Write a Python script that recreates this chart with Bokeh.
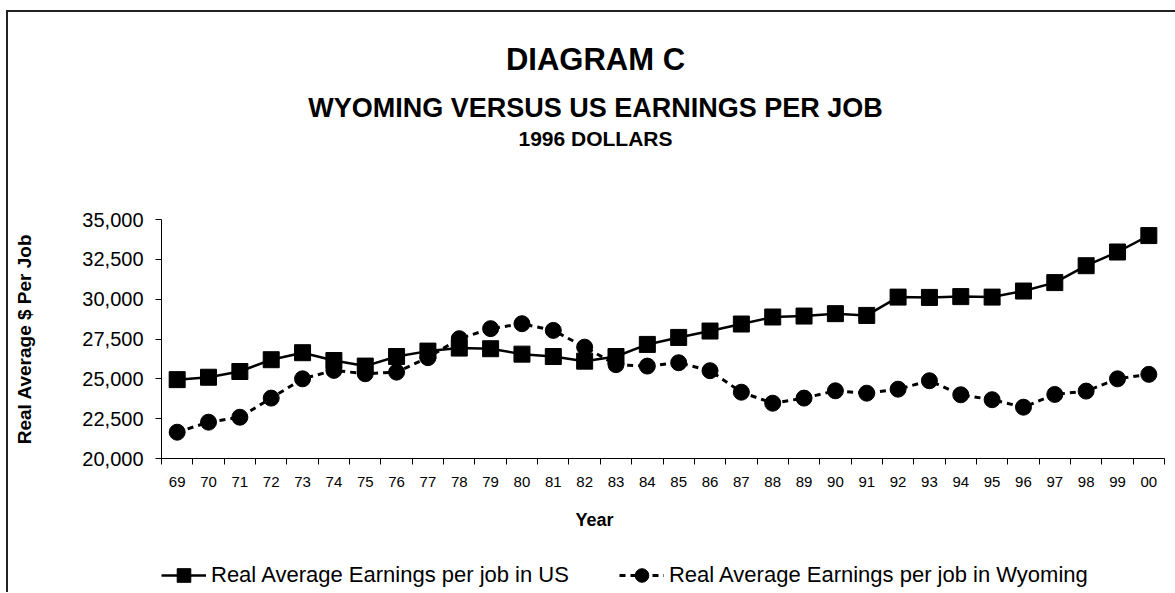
from bokeh.plotting import figure
from bokeh.layouts import column
from bokeh.models import (Range1d, FixedTicker, NumeralTickFormatter, ColumnDataSource,
                          Label, Legend, LegendItem)
from bokeh.embed import file_html
from bokeh.resources import INLINE

years = ["69", "70", "71", "72", "73", "74", "75", "76", "77", "78", "79", "80", "81", "82", "83", "84",
         "85", "86", "87", "88", "89", "90", "91", "92", "93", "94", "95", "96", "97", "98", "99", "00"]
us_earnings = [24950, 25100, 25460, 26200, 26640, 26150, 25800, 26400, 26740, 26930, 26890, 26550,
               26400, 26110, 26400, 27160, 27600, 28000, 28440, 28880, 28940, 29090, 28980, 30130,
               30110, 30160, 30130, 30510, 31040, 32100, 32960, 33990]
wy_earnings = [21650, 22280, 22590, 23790, 25000, 25530, 25320, 25420, 26330, 27520, 28150, 28460,
               28040, 26990, 25890, 25800, 26010, 25510, 24160, 23470, 23790, 24250, 24100, 24350,
               24880, 24000, 23690, 23220, 24020, 24230, 25000, 25280]
y_ticks = [20000, 22500, 25000, 27500, 30000, 32500, 35000]

title_text = "DIAGRAM C"
subtitle_text = "WYOMING VERSUS US EARNINGS PER JOB"
dollars_text = "1996 DOLLARS"
y_label_text = "Real Average $ Per Job"
x_label_text = "Year"
us_label = "Real Average Earnings per job in US"
wy_label = "Real Average Earnings per job in Wyoming"

FONT = "Liberation Sans"
W = 1167
n = len(years)
src = ColumnDataSource(dict(pos=list(range(n)), year=years, us=us_earnings, wy=wy_earnings))


def blank_figure(height):
    f = figure(width=W, height=height, x_range=Range1d(0, 1), y_range=Range1d(0, 1),
               x_axis_location=None, y_axis_location=None, title=None,
               output_backend="svg", toolbar_location=None,
               min_border_left=153, min_border_right=11, min_border_top=0, min_border_bottom=0)
    f.outline_line_color = None
    f.xgrid.visible = False
    f.ygrid.visible = False
    return f


def add_label(f, text, x, y, size, bold=True):
    f.add_layout(Label(text=text, x=x, y=y, x_units="screen", y_units="screen",
                       text_align="center", text_baseline="alphabetic", text_font=FONT,
                       text_font_size=size, text_font_style="bold" if bold else "normal",
                       text_color="black"))


# ---- titles ----
top = blank_figure(192)
add_label(top, title_text, 434, 145, "31px")
add_label(top, subtitle_text, 434, 97, "27px")
add_label(top, dollars_text, 434, 66, "21px")

# ---- chart ----
p = figure(width=W, height=294, x_range=Range1d(-0.5, n - 0.5), y_range=Range1d(20000, 35000),
           title=None, output_backend="svg", toolbar_location=None,
           min_border_left=153, min_border_right=11, min_border_top=15, min_border_bottom=40)
p.outline_line_color = None
p.xgrid.visible = False
p.ygrid.visible = False

xaxis = p.xaxis[0]
xaxis.ticker = FixedTicker(ticks=list(range(n)), minor_ticks=[i - 0.5 for i in range(n + 1)])
xaxis.major_label_overrides = {i: y for i, y in enumerate(years)}
xaxis.major_tick_line_color = None
xaxis.major_tick_out = 0
xaxis.major_tick_in = 0
xaxis.minor_tick_line_color = "black"
xaxis.minor_tick_out = 6
xaxis.minor_tick_in = 0
xaxis.axis_line_color = "black"
xaxis.major_label_standoff = 12
xaxis.major_label_text_font = FONT
xaxis.major_label_text_font_size = "15px"
xaxis.major_label_text_color = "black"

yaxis = p.yaxis[0]
yaxis.ticker = FixedTicker(ticks=y_ticks)
yaxis.formatter = NumeralTickFormatter(format="0,0")
yaxis.minor_tick_line_color = None
yaxis.major_tick_out = 6
yaxis.major_tick_in = 0
yaxis.major_label_standoff = 12
yaxis.major_label_text_font = FONT
yaxis.major_label_text_font_size = "20px"
yaxis.major_label_text_color = "black"
yaxis.axis_line_color = "black"
yaxis.axis_label = y_label_text
yaxis.axis_label_text_font = FONT
yaxis.axis_label_text_font_size = "19px"
yaxis.axis_label_text_font_style = "bold"
yaxis.axis_label_text_color = "black"
yaxis.axis_label_standoff = 44

US_STYLE = dict(line_color="black", line_width=2.5)
WY_STYLE = dict(line_color="black", line_width=3, line_dash="6 5")
US_MARK = dict(marker="square", size=16, fill_color="black", line_color="black")
WY_MARK = dict(marker="circle", size=16, fill_color="black", line_color="black")
p.line("pos", "us", source=src, **US_STYLE)
p.scatter("pos", "us", source=src, **US_MARK)
p.line("pos", "wy", source=src, **WY_STYLE)
p.scatter("pos", "wy", source=src, **WY_MARK)

# ---- axis title and legend ----
bottom = blank_figure(94)
add_label(bottom, x_label_text, 433, 73, "18px")
# legend proxies: one point lying outside this panel's visible range, so only the legend swatch shows
proxy = ColumnDataSource(dict(x=[-5], y=[-5]))
lg_us_line = bottom.line("x", "y", source=proxy, **US_STYLE)
lg_us_pts = bottom.scatter("x", "y", source=proxy, **US_MARK)
lg_wy_line = bottom.line("x", "y", source=proxy, **WY_STYLE)
lg_wy_pts = bottom.scatter("x", "y", source=proxy, **WY_MARK)
legend = Legend(items=[LegendItem(label=us_label, renderers=[lg_us_line, lg_us_pts]),
                       LegendItem(label=wy_label, renderers=[lg_wy_line, lg_wy_pts])],
                orientation="horizontal", location=(0, 0), padding=0, margin=0,
                border_line_color=None, background_fill_alpha=0,
                glyph_width=45, glyph_height=34, label_standoff=5, spacing=50,
                label_text_font=FONT, label_text_font_size="22px", label_text_color="black")
bottom.add_layout(legend, "center")

page = column(top, p, bottom, spacing=0)
page.styles = {"border-left": "2px solid #222", "border-top": "2px solid #222",
               "margin-top": "10px", "margin-left": "6px"}

open("out.html", "w").write(file_html(page, INLINE))
